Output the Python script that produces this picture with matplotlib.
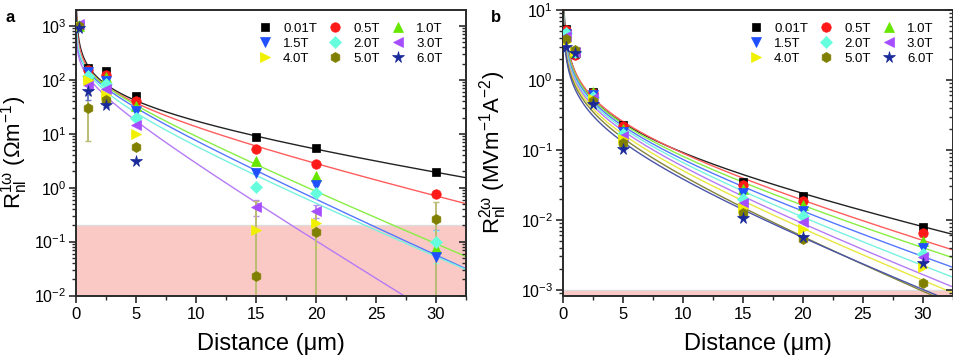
import numpy as np
import matplotlib
matplotlib.use('Agg')
import matplotlib.pyplot as plt
from matplotlib.ticker import MultipleLocator, LogLocator, NullFormatter

plt.rcParams['font.family'] = ['Liberation Sans', 'DejaVu Sans']
plt.rcParams['mathtext.fontset'] = 'custom'
plt.rcParams['mathtext.rm'] = 'Liberation Sans'
plt.rcParams['mathtext.it'] = 'Liberation Sans:italic'
plt.rcParams['mathtext.bf'] = 'Liberation Sans:bold'

nan = np.nan

# ---------------- data ----------------
fields = ['0.01T', '0.5T', '1.0T', '1.5T', '2.0T', '3.0T', '4.0T', '5.0T', '6.0T']
distance = [0.25, 1, 2.5, 5, 15, 20, 30]

# panel a: R_nl^{1w} (Ohm m^-1)
a_001T = [1000, 164, 147, 50, 8.9, 5.35, 1.92]
a_05T = [1000, 150, 124, 40, 5.2, 2.74, 0.77]
a_10T = [1000, 130, 112, 33, 3.16, 1.67, 0.076]
a_15T = [950, 140, 96, 26.7, 1.87, 1.12, 0.052]
a_20T = [1000, 120, 83, 19.5, 1.04, 0.80, 0.10]
a_30T = [1080, 81, 67, 14.3, 0.44, 0.37, nan]
a_40T = [1000, 100, 53, 10, 0.162, 0.22, nan]
a_50T = [1000, 30, 43, 5.8, 0.023, 0.149, 0.267]
a_60T = [900, 63, 34.5, 3.16, nan, nan, nan]

# panel a error bars
ae_15T = [0, 0, 0, 0, 0, 0, 0.11]
ae_20T = [0, 0, 0, 0, 0, 0, 0.06]
ae_30T = [0, 0, 0, 0, 0.14, 0.10, 0]
ae_40T = [0, 0, 0, 0, 0, 0.14, 0]
ae_50T = [0, 22.5, 0, 0, 0.55, 0.20, 0.265]
ae_60T = [0, 20, 3, 0, 0, 0, 0]

# panel b: R_nl^{2w} (MV m^-1 A^-2)
b_001T = [5.35, 2.33, 0.667, 0.228, 0.0353, 0.022, 0.00804]
b_05T = [5.2, 2.3, 0.66, 0.22, 0.032, 0.0189, 0.00645]
b_10T = [4.9, 2.5, 0.68, 0.20, 0.0277, 0.0164, 0.00507]
b_15T = [4.6, 2.4, 0.61, 0.18, 0.0242, 0.0132, 0.00394]
b_20T = [4.7, 2.5, 0.58, 0.17, 0.0199, 0.0112, 0.00327]
b_30T = [4.25, 2.5, 0.55, 0.16, 0.0174, 0.0092, 0.0029]
b_40T = [3.53, 2.6, 0.53, 0.145, 0.0148, 0.0074, 0.00215]
b_50T = [3.9, 2.68, 0.50, 0.124, 0.0124, 0.0054, 0.00127]
b_60T = [3.0, 2.4, 0.46, 0.103, 0.0106, 0.0056, 0.0024]

# fit-curve values (used to fit R = A x^-p exp(-x/l))
fit_x = [1, 2.5, 5, 10, 15, 20, 25, 30, 32.5]
fa_001T = [176, 91, 38, 16.9, 9.06, 5.43, 3.21, 1.95, 1.47]
fa_05T = [166, 85, 32, 13.6, 6.2, 2.94, 1.43, 0.695, 0.484]
fa_10T = [158, 79, 28.6, 10.0, 2.82, 0.85, 0.276, 0.091, 0.052]
fa_15T = [148, 74, 24.8, 8.3, 2.14, 0.63, 0.187, 0.056, 0.030]
fa_20T = [135, 68, 21.5, 6.7, 1.58, 0.506, 0.164, 0.054, 0.030]
fa_30T = [115, 52, 14.7, 3.3, 0.52, 0.104, 0.0204, nan, nan]

fb_001T = [1.41, 0.525, 0.215, 0.0977, 0.0454, 0.0253, 0.0141, 0.00789, 0.0059]
fb_05T = [1.45, 0.537, 0.219, 0.101, 0.0404, 0.0201, 0.0100, 0.00501, 0.00355]
fb_10T = [1.35, 0.501, 0.200, 0.0895, 0.0361, 0.0172, 0.0082, 0.00392, 0.00271]
fb_15T = [1.26, 0.468, 0.183, 0.0785, 0.0324, 0.0145, 0.00649, 0.00291, 0.00195]
fb_20T = [1.17, 0.437, 0.169, 0.0705, 0.0282, 0.0120, 0.00508, 0.00216, 0.00140]
fb_30T = [1.10, 0.407, 0.152, 0.0611, 0.0244, 0.00982, 0.00395, 0.00159, 0.00101]
fb_40T = [1.00, 0.380, 0.136, 0.0518, 0.0211, 0.0084, 0.00332, 0.00132, 0.00083]
fb_50T = [0.912, 0.347, 0.122, 0.0449, 0.0169, 0.00628, 0.00233, 0.00087, nan]
fb_60T = [0.813, 0.309, 0.106, 0.0394, 0.0160, 0.00617, 0.00237, 0.00091, nan]

# ---------------- styles ----------------
mcolors = ['#000000', '#ff1a1a', '#66e600', '#1f4fff', '#66ffdd', '#a64dff', '#f0f000', '#808000', '#1a2a9a']
lcolors = ['#222222', '#ff5c5c', '#88ee44', '#5577ff', '#77f2e0', '#b57af5', '#e8e840', '#85853a', '#4a55a8']
ecolors = ['#888888', '#ff9999', '#aaee88', '#8899ff', '#99ffee', '#b98cf0', '#e8e888', '#bcbc74', '#6677cc']
markers = ['s', 'o', '^', 'v', 'D', '<', '>', 'h', '*']
msizes = [6.2, 6.8, 7.2, 7.2, 6.0, 7.2, 7.2, 7.2, 8.5]

a_vals = [a_001T, a_05T, a_10T, a_15T, a_20T, a_30T, a_40T, a_50T, a_60T]
a_errs = [None, None, None, ae_15T, ae_20T, ae_30T, ae_40T, ae_50T, ae_60T]
b_vals = [b_001T, b_05T, b_10T, b_15T, b_20T, b_30T, b_40T, b_50T, b_60T]
fa_vals = [fa_001T, fa_05T, fa_10T, fa_15T, fa_20T, fa_30T]
fb_vals = [fb_001T, fb_05T, fb_10T, fb_15T, fb_20T, fb_30T, fb_40T, fb_50T, fb_60T]


def fit_params(xs, ys):
    xs = np.asarray(xs, float)
    ys = np.asarray(ys, float)
    m = np.isfinite(ys)
    A = np.column_stack([np.ones(m.sum()), np.log10(xs[m]), xs[m]])
    c, *_ = np.linalg.lstsq(A, np.log10(ys[m]), rcond=None)
    return c


xd = np.concatenate([np.geomspace(0.005, 1, 300), np.linspace(1, 33, 400)[1:]])

fig = plt.figure(figsize=(9.54, 3.58), dpi=100)
axa = fig.add_axes([76 / 954, 62.5 / 358, 390 / 954, 285.5 / 358])
axb = fig.add_axes([562.7 / 954, 62.5 / 358, 390 / 954, 285.5 / 358])

spine_c = '#2a2a2a'


def style_axes(ax, ylim, ylabel, xlab_frac, band_top):
    ax.set_yscale('log')
    ax.set_xlim(0, 32.5)
    ax.set_ylim(*ylim)
    ax.axhspan(ylim[0], band_top, color='#fbc9c5', lw=0, zorder=0)
    ax.axhline(band_top, color='#dcdcdc', lw=1.0, zorder=0.5)
    ax.xaxis.set_major_locator(MultipleLocator(5))
    ax.xaxis.set_minor_locator(MultipleLocator(2.5))
    ax.yaxis.set_major_locator(LogLocator(base=10, numticks=20))
    ax.yaxis.set_minor_locator(LogLocator(base=10, subs=np.arange(2, 10), numticks=20))
    ax.yaxis.set_minor_formatter(NullFormatter())
    ax.tick_params(axis='x', which='major', direction='out', length=5, width=1.2, labelsize=12, pad=3, color=spine_c)
    ax.tick_params(axis='x', which='minor', direction='out', length=3, width=1.0, color=spine_c)
    ax.tick_params(axis='y', which='major', direction='out', length=5, width=1.2, labelsize=11.5, pad=2, color=spine_c)
    ax.tick_params(axis='y', which='minor', direction='out', length=3, width=1.0, color=spine_c)
    for s in ax.spines.values():
        s.set_linewidth(1.4)
        s.set_color(spine_c)
    ax.set_xlabel('Distance (\u03bcm)', fontsize=17, labelpad=8)
    ax.set_ylabel(ylabel, fontsize=16)
    ax.yaxis.set_label_coords(xlab_frac, 0.5)
    # right side ticks (inward)
    tw = ax.twinx()
    tw.set_yscale('log')
    tw.set_ylim(*ylim)
    tw.yaxis.set_major_locator(LogLocator(base=10, numticks=20))
    tw.yaxis.set_minor_locator(LogLocator(base=10, subs=np.arange(2, 10), numticks=20))
    tw.yaxis.set_minor_formatter(NullFormatter())
    tw.tick_params(axis='y', which='major', direction='in', length=5, width=1.2, labelright=False, color=spine_c)
    tw.tick_params(axis='y', which='minor', direction='in', length=3, width=1.0, color=spine_c)
    for s in tw.spines.values():
        s.set_visible(False)


def draw_panel(ax, vals, errs, fits, legend_x):
    for i, c in enumerate(fits):
        p = fit_params(fit_x, c)
        ax.plot(xd, 10 ** (p[0] + p[1] * np.log10(xd) + p[2] * xd), color=lcolors[i], lw=1.0, zorder=2)
    handles = []
    for i, v in enumerate(vals):
        if errs is not None and errs[i] is not None:
            ax.errorbar(distance, v, yerr=errs[i], fmt='none', ecolor=ecolors[i], elinewidth=1.4,
                        capsize=2.5, capthick=1.0, zorder=2.5)
        h, = ax.plot(distance, v, linestyle='none', marker=markers[i], ms=msizes[i],
                     color=mcolors[i], mec=mcolors[i], mew=0.5, label=fields[i], zorder=3 + i * 0.01)
        handles.append(h)
    order = [0, 3, 6, 1, 4, 7, 2, 5, 8]
    ax.legend([handles[k] for k in order], [fields[k] for k in order], ncol=3, frameon=False,
              fontsize=9.5, loc='upper left', bbox_to_anchor=(legend_x, 0.975), borderaxespad=0,
              handlelength=1.0, handletextpad=0.85, columnspacing=0.9, labelspacing=0.22)


style_axes(axa, (0.01, 1980), r'R$_{\mathregular{nl}}^{\mathregular{1\omega}}$ ($\Omega$m$^{\mathregular{-1}}$)', -0.118, 0.2)
style_axes(axb, (8.3e-4, 10), r'R$_{\mathregular{nl}}^{\mathregular{2\omega}}$ (MVm$^{\mathregular{-1}}$A$^{\mathregular{-2}}$)', -0.138, 1e-3)

draw_panel(axa, a_vals, a_errs, fa_vals, 0.455)
draw_panel(axb, b_vals, None, fb_vals, 0.466)

fig.text(5 / 954, 1 - 22 / 358, 'a', fontsize=12, fontweight='bold')
fig.text(491 / 954, 1 - 22 / 358, 'b', fontsize=12, fontweight='bold')

fig.savefig('out.png', dpi=100)
